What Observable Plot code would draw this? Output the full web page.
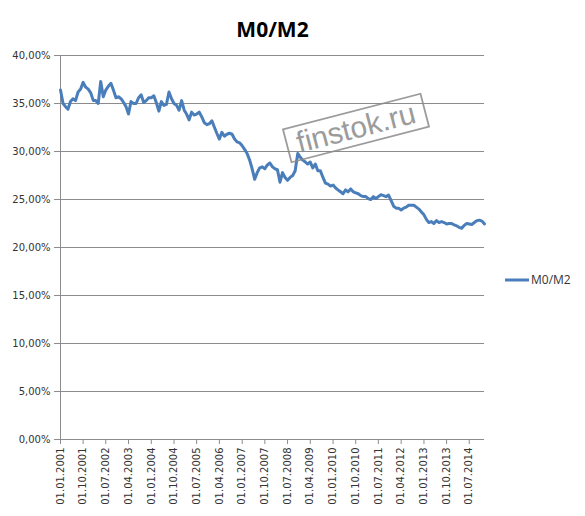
<!DOCTYPE html>
<html>
<head>
<meta charset="utf-8">
<script src="https://cdn.jsdelivr.net/npm/d3@7"></script>
<script src="https://cdn.jsdelivr.net/npm/@observablehq/plot@0.6"></script>
<style>
  html, body { margin: 0; padding: 0; background: #fff; }
  #chart { width: 585px; height: 516px; }
</style>
</head>
<body>
<div id="chart"></div>
<script>
// ---- data ----
const chartTitle = "M0/M2";
const seriesName = "M0/M2";
const startMonth = "2001-01-01";  // monthly observations start here
const watermark = "finstok.ru";
// M0/M2 ratio, %, monthly, Jan 2001 .. Jan 2015
const ratio = [
  36.4, 35.0, 34.7, 34.4, 35.2, 35.5, 35.3, 36.2, 36.5, 37.2,
  36.7, 36.5, 36.1, 35.3, 35.3, 35.0, 37.3, 35.7, 36.4, 36.8,
  37.1, 36.4, 35.6, 35.7, 35.5, 35.1, 34.7, 33.9, 35.2, 35.0,
  35.0, 35.6, 35.9, 35.1, 35.3, 35.6, 35.6, 35.8, 35.1, 34.2,
  35.2, 34.8, 34.9, 36.2, 35.5, 35.0, 34.8, 34.3, 35.3, 34.3,
  33.9, 33.3, 34.1, 33.8, 33.9, 34.1, 33.6, 33.0, 32.8, 32.9,
  33.2, 32.5, 31.9, 31.3, 32.0, 31.6, 31.8, 31.9, 31.8, 31.3,
  31.0, 30.9, 30.6, 30.2, 29.8, 29.1, 28.2, 27.1, 27.8, 28.3,
  28.4, 28.2, 28.6, 28.8, 28.4, 28.2, 28.1, 26.8, 27.8, 27.3,
  27.0, 27.3, 27.5, 28.0, 29.8, 29.4, 29.1, 28.9, 28.7, 28.9,
  28.3, 28.7, 28.0, 28.0, 27.3, 26.7, 26.6, 26.4, 26.5, 26.2,
  26.0, 25.8, 25.6, 26.0, 25.8, 26.1, 25.8, 25.7, 25.6, 25.4,
  25.3, 25.3, 25.1, 25.0, 25.3, 25.1, 25.3, 25.5, 25.4, 25.3,
  25.45, 24.9, 24.3, 24.1, 24.1, 23.9, 24.1, 24.2, 24.4, 24.4,
  24.4, 24.2, 24.0, 23.7, 23.4, 22.9, 22.6, 22.7, 22.5, 22.8,
  22.6, 22.7, 22.6, 22.45, 22.5, 22.5, 22.35, 22.25, 22.1, 22.0,
  22.3, 22.5, 22.45, 22.4, 22.6, 22.8, 22.85, 22.75, 22.45
];
// x tick labels (every 9 months)
const xTickLabels = [
  "01.01.2001","01.10.2001","01.07.2002","01.04.2003","01.01.2004",
  "01.10.2004","01.07.2005","01.04.2006","01.01.2007","01.10.2007",
  "01.07.2008","01.04.2009","01.01.2010","01.10.2010","01.07.2011",
  "01.04.2012","01.01.2013","01.10.2013","01.07.2014"
];
const yTicks = [0, 5, 10, 15, 20, 25, 30, 35, 40];

// ---- build ----
const parseLabel = d3.utcParse("%d.%m.%Y");
const fmtLabel = d3.utcFormat("%d.%m.%Y");
const t0 = d3.isoParse(startMonth);
const rows = ratio.map((v, i) => ({date: d3.utcMonth.offset(t0, i), value: v}));
const xTicks = xTickLabels.map(parseLabel);
const xDomain = [rows[0].date, rows[rows.length - 1].date];
const lineColor = "#4a7ebb";
const gridColor = "#8c8c8c";
const textColor = "#333";

const plot = Plot.plot({
  width: 585,
  height: 516,
  marginLeft: 60,
  marginRight: 101,
  marginTop: 55,
  marginBottom: 77,
  style: {fontFamily: "'DejaVu Sans', Verdana, sans-serif", fontSize: "10px", color: textColor, background: "#fff"},
  x: {type: "utc", domain: xDomain},
  y: {domain: [0, 40]},
  marks: [
    Plot.gridY(yTicks, {stroke: gridColor, strokeOpacity: 1}),
    Plot.ruleX([xDomain[0]], {stroke: gridColor}),
    Plot.axisY({ticks: yTicks, tickSize: 6, tickPadding: 4, stroke: gridColor,
      tickFormat: d => d.toFixed(2).replace(".", ",") + "%", label: null}),
    Plot.axisX({ticks: xTicks, tickSize: 5, tickPadding: 3, tickRotate: -90, stroke: gridColor,
      tickFormat: d => fmtLabel(d), label: null}),
    Plot.lineY(rows, {x: "date", y: "value", stroke: lineColor, strokeWidth: 3, strokeLinejoin: "round"}),
    Plot.text([chartTitle], {frameAnchor: "top", dy: -33, fontSize: 21, fontWeight: "bold",
      fontFamily: "'Open Sans', sans-serif", fill: "#000"})
  ]
});

const svg = d3.select(plot);
// legend
const lg = svg.append("g").attr("transform", "translate(505,280)");
lg.append("line").attr("x1", 0).attr("x2", 24).attr("y1", 0).attr("y2", 0)
  .attr("stroke", lineColor).attr("stroke-width", 3);
lg.append("text").attr("x", 26).attr("y", 4).attr("text-anchor", "start")
  .attr("font-family", "'Open Sans', sans-serif")
  .attr("font-size", 12).attr("fill", textColor).text(seriesName);
// watermark
const wm = svg.append("g").attr("transform", "translate(356,128) rotate(-14.5)");
wm.append("rect").attr("x", -71).attr("y", -17).attr("width", 142).attr("height", 34)
  .attr("fill", "none").attr("stroke", "#8a8a8a").attr("stroke-width", 1.8).attr("opacity", 0.85);
wm.append("text").attr("x", 0).attr("y", 10).attr("text-anchor", "middle")
  .attr("font-family", "'Liberation Sans', Arial, sans-serif").attr("font-size", 30)
  .attr("fill", "#8a8a8a").attr("opacity", 0.85).text(watermark);

document.getElementById("chart").appendChild(plot);
</script>
</body>
</html>
